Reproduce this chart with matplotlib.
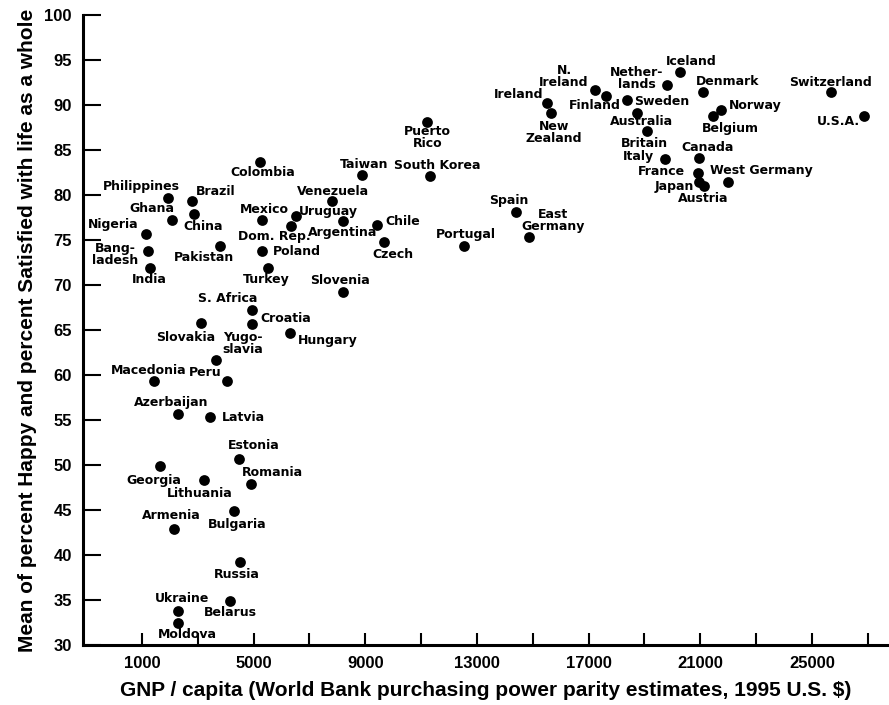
import matplotlib
matplotlib.use('Agg')
import matplotlib.pyplot as plt

#Data
countries = ['Colombia', 'Taiwan', 'Philippines', 'Brazil', 'Ghana', 'China', 'Nigeria',
             'Bang-\nladesh', 'India', 'Pakistan', 'Mexico', 'Dom. Rep.', 'Uruguay',
             'Venezuela', 'Argentina', 'Chile', 'Czech', 'Poland', 'Turkey', 'Slovenia',
             'S. Africa', 'Slovakia', 'Croatia', 'Yugo-\nslavia', 'Hungary', 'Macedonia',
             'Peru', 'Azerbaijan', 'Latvia', 'Estonia', 'Georgia', 'Lithuania', 'Romania',
             'Armenia', 'Bulgaria', 'Russia', 'Ukraine', 'Belarus', 'Moldova',
             'Puerto\nRico', 'South Korea', 'Spain', 'East\nGermany', 'Portugal',
             'Ireland', 'New\nZealand', 'N.\nIreland', 'Finland', 'Sweden',
             'Nether-\nlands', 'Iceland', 'Denmark', 'Australia', 'Britain', 'Italy',
             'Canada', 'France', 'Japan', 'Austria', 'West Germany', 'Norway',
             'Belgium', 'Switzerland', 'U.S.A.']
gnp = [5230, 8900, 1940, 2780, 2060, 2870, 1130,
       1200, 1290, 3790, 5300, 6330, 6520,
       7820, 8210, 9420, 9670, 5300, 5500, 8210,
       4930, 3100, 4930, 3650, 6300, 1430,
       4030, 2280, 3440, 4470, 1650, 3230, 4900,
       2150, 4300, 4510, 2300, 4150, 2300,
       11200, 11320, 14400, 14860, 12540,
       15500, 15650, 17230, 17620, 18360,
       19790, 20270, 21080, 18720, 19080, 19730,
       20960, 20910, 20960, 21140, 21980, 21760,
       21440, 25670, 26870]
happy = [83.7, 82.2, 79.7, 79.3, 77.2, 77.9, 75.7,
         73.8, 71.9, 74.3, 77.2, 76.6, 77.7,
         79.3, 77.1, 76.7, 74.8, 73.8, 71.9, 69.2,
         67.2, 65.8, 65.7, 61.7, 64.7, 59.3,
         59.3, 55.7, 55.3, 50.7, 49.9, 48.3, 47.9,
         42.9, 44.9, 39.2, 33.8, 34.9, 32.4,
         88.1, 82.1, 78.1, 75.3, 74.3,
         90.2, 89.1, 91.7, 91.0, 90.6,
         92.2, 93.7, 91.5, 89.1, 87.1, 84.0,
         84.1, 82.5, 81.4, 81.0, 81.4, 89.4,
         88.8, 91.4, 88.8]

xticks = list(range(1000, 28000, 2000))
xticklabels = ['1000', '', '5000', '', '9000', '', '13000', '', '17000', '',
               '21000', '', '25000', '']
yticks = list(range(30, 101, 5))

#Label offsets from the dot (pixels)
offsets = [(3, -11), (2, 11), (-27, 11), (24, 10), (-20, 12), (9, -13), (-32, 9),
           (-32, -4), (-1, -12), (-16, -11), (2, 11), (-16, -11), (32, 4),
           (1, 10), (-1, -11), (26, 3), (9, -13), (35, -1), (-1, -12), (-3, 12),
           (-24, 12), (-15, -15), (34, 5), (27, 16), (38, -8), (-5, 11),
           (-21, 9), (-6, 11), (33, 0), (15, 13), (-6, -15), (-4, -13), (22, 11),
           (-3, 13), (3, -14), (-3, -12), (4, 12), (0, -12), (9, -11),
           (1, -15), (7, 11), (-7, 12), (24, 17), (2, 12),
           (-28, 9), (3, -19), (-31, 13), (-11, -9), (35, -2),
           (-30, 7), (11, 10), (25, 10), (5, -8), (-2, -12), (-26, 3),
           (8, 11), (-36, 1), (-25, -4), (-1, -12), (34, 12), (34, 5),
           (18, -13), (0, 10), (-26, -6)]

#Plot
fig = plt.figure(figsize=(8.89, 7.05), dpi=100)
ax = fig.add_axes([0.0934, 0.0851, 0.9066, 0.8936])
ax.scatter(gnp, happy, s=60, color='black', zorder=3, linewidths=0)

for name, x, y, (dx, dy) in zip(countries, gnp, happy, offsets):
    ax.annotate(name, (x, y), xytext=(dx, dy), textcoords='offset pixels',
                ha='center', va='center', fontsize=9, fontweight='bold',
                family='DejaVu Sans', linespacing=0.9)

ax.set_xlim(-1110, 27760)
ax.set_ylim(30, 100)
ax.set_xticks(xticks)
ax.set_xticklabels(xticklabels, fontsize=12, fontweight='bold', family='Liberation Sans')
ax.set_yticks(yticks)
ax.set_yticklabels([str(v) for v in yticks], fontsize=12, fontweight='bold',
                   family='Liberation Sans')
ax.tick_params(axis='x', direction='in', length=9, width=1.5, pad=8)
ax.tick_params(axis='y', direction='in', length=13, width=1.5, pad=8)

for side in ['top', 'right']:
    ax.spines[side].set_visible(False)
for side in ['left', 'bottom']:
    ax.spines[side].set_linewidth(2.2)

ax.set_xlabel('GNP / capita (World Bank purchasing power parity estimates, 1995 U.S. $)',
              fontsize=15, fontweight='bold', family='Liberation Sans', labelpad=7)
ax.set_ylabel('Mean of percent Happy and percent Satisfied with life as a whole',
              fontsize=15, fontweight='bold', family='Liberation Sans', labelpad=5)

fig.savefig('out.png', dpi=100)
